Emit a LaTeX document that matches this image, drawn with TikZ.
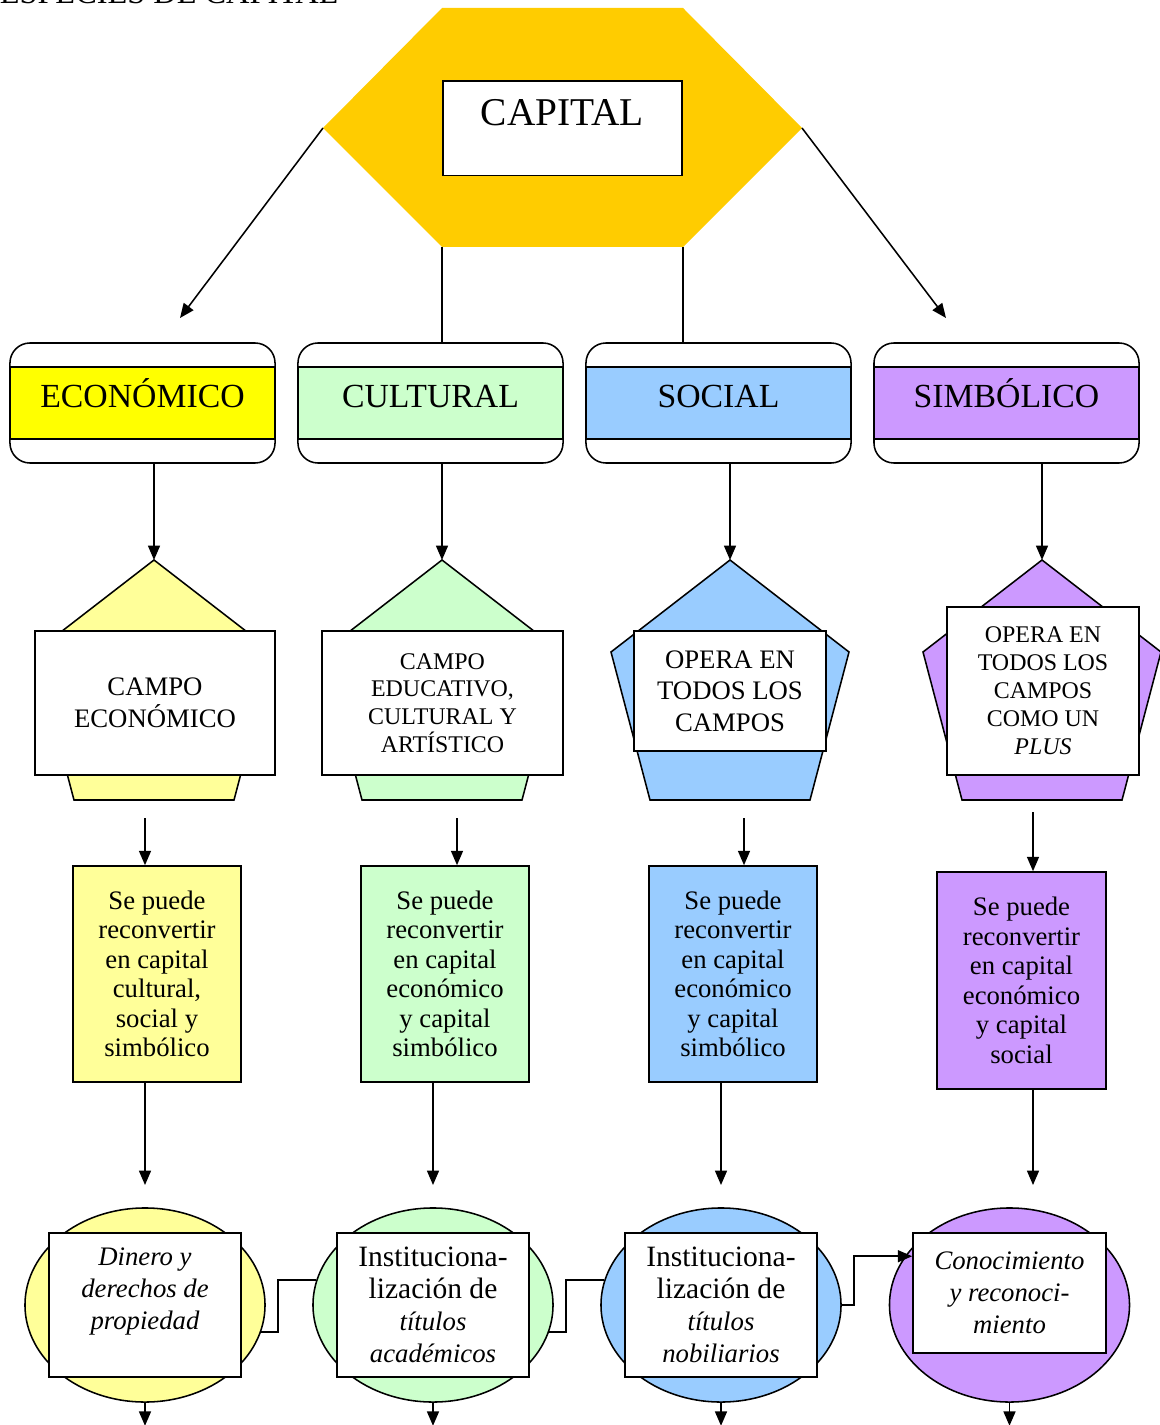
\documentclass[tikz,border=0pt]{standalone}
\usepackage{fontspec}
\setmainfont{Liberation Serif}
\usetikzlibrary{arrows.meta,shapes.geometric}

\definecolor{capcol}{HTML}{FFCC00}
\definecolor{ecoA}{HTML}{FFFF00}
\definecolor{ecoB}{HTML}{FFFF99}
\definecolor{culA}{HTML}{CCFFCC}
\definecolor{socA}{HTML}{99CCFF}
\definecolor{simA}{HTML}{CC99FF}

\newcommand\cursiva[1]{{\itshape\fontsize{19}{22.8}\selectfont #1}}

\begin{document}
\begin{tikzpicture}[x=0.025cm, y=-0.025cm, line width=1.1pt,
    >={Triangle[length=0.36cm,width=0.3cm]},
    hdrbox/.style={draw, fill=white, rounded corners=0.5cm, minimum width=6.625cm, minimum height=3cm},
    band/.style={draw, minimum width=6.625cm, minimum height=1.8cm, text height=16pt, text depth=10.3pt,
        font=\fontsize{24}{28}\selectfont},
    campo/.style={draw, fill=white, align=center, inner sep=0pt},
    reconv/.style={draw, align=center, minimum width=4.2cm, minimum height=5.4cm, inner sep=0pt,
        font=\fontsize{19}{21}\selectfont},
    oval/.style={draw, ellipse, minimum width=6cm, minimum height=4.85cm, inner sep=0pt},
    titulo/.style={draw, fill=white, align=center, minimum width=4.8cm, minimum height=3.6cm, inner sep=0pt,
        font=\fontsize{21}{22.8}\selectfont}]
    \useasboundingbox (0,0) rectangle (1159,1425);

    % title, cut by the top of the page
    \node[anchor=base west, inner sep=0pt, font=\fontsize{23}{27}\selectfont] (title) at (-1,4) {ESPECIES DE CAPITAL};

    % hexagon with CAPITAL
    \coordinate (hexL) at (323,128);
    \coordinate (hexR) at (802,128);
    \coordinate (hexBL) at (442,247);
    \coordinate (hexBR) at (683,247);
    \fill[capcol] (442,8) -- (683,8) -- (hexR) -- (hexBR) -- (hexBL) -- (hexL) -- cycle;
    \node[draw, fill=white, anchor=north, minimum width=5.975cm, text height=18.5pt, text depth=22pt,
        inner ysep=13.5pt, font=\fontsize{28}{32}\selectfont] (capital) at (562.5,80) {CAPITAL};

    % the four kinds
    \foreach[count=\s] \cx/\ax/\hc/\pc/\lbl in {142.5/154/ecoA/ecoB/ECONÓMICO, 430.5/442/culA/culA/CULTURAL,
        718.5/730/socA/socA/SOCIAL, 1006.5/1042/simA/simA/SIMBÓLICO}
    {
    \node[hdrbox] (hdr\s) at (\cx,403) {};
    \node[band, fill=\hc] (band\s) at (\cx,403) {\lbl};
    \coordinate (apex\s) at (\ax,560);
    \fill[\pc, draw=black] (apex\s) -- (\ax+119,652) -- (\ax+80,800) -- (\ax-80,800) -- (\ax-119,652) -- cycle;
    \draw[->] (apex\s |- hdr\s.south) -- (apex\s);
    }

    \coordinate (eTip) at (180,318);
    \coordinate (sTip) at (946,318);
    \draw[->] (hexL) -- (eTip);
    \draw[->] (hexR) -- (sTip);
    \draw (hexBL) -- (hexBL |- hdr2.north);
    \draw (hexBR) -- (hexBR |- hdr3.north);

    % fields
    \node[campo, minimum width=6cm, minimum height=3.6cm, font=\fontsize{19}{22.5}\selectfont] (campo1) at (155,703)
        {CAMPO\\ECONÓMICO};
    \node[campo, minimum width=6.025cm, minimum height=3.6cm, font=\fontsize{17}{19.7}\selectfont] (campo2) at (442.5,703)
        {CAMPO\\EDUCATIVO,\\CULTURAL Y\\ARTÍSTICO};
    \node[campo, minimum width=4.8cm, minimum height=3cm, font=\fontsize{19}{22.4}\selectfont] (campo3) at (730,691)
        {OPERA EN\\TODOS LOS\\CAMPOS};
    \node[campo, minimum width=4.8cm, minimum height=4.2cm, font=\fontsize{17}{19.9}\selectfont] (campo4) at (1043,691)
        {OPERA EN\\TODOS LOS\\CAMPOS\\COMO UN\\\textit{PLUS}};

    % reconversion
    \node[reconv, fill=ecoB] (r1) at (157,974) {Se puede\\reconvertir\\en capital\\cultural,\\social y\\simbólico};
    \node[reconv, fill=culA] (r2) at (445,974) {Se puede\\reconvertir\\en capital\\económico\\y capital\\simbólico};
    \node[reconv, fill=socA] (r3) at (733,974) {Se puede\\reconvertir\\en capital\\económico\\y capital\\simbólico};
    \node[reconv, fill=simA, minimum width=4.225cm, minimum height=5.425cm] (r4) at (1021.5,980.5)
        {Se puede\\reconvertir\\en capital\\económico\\y capital\\social};

    % results
    \node[oval, fill=ecoB] (e1) at (145,1305) {};
    \node[oval, fill=culA] (e2) at (433,1305) {};
    \node[oval, fill=socA] (e3) at (721,1305) {};
    \node[oval, fill=simA] (e4) at (1009.5,1305) {};
    \node[titulo] (b1) at (145,1305) {\cursiva{Dinero y}\\\cursiva{derechos de}\\\cursiva{propiedad}\\~};
    \node[titulo] (b2) at (433,1305) {Instituciona-\\lización de\\\cursiva{títulos}\\\cursiva{académicos}};
    \node[titulo] (b3) at (721,1305) {Instituciona-\\lización de\\\cursiva{títulos}\\\cursiva{nobiliarios}};
    \node[titulo, minimum width=4.825cm, minimum height=3cm] (b4) at (1009.5,1293)
        {\cursiva{Conocimiento}\\\cursiva{y reconoci-}\\\cursiva{miento}};

    \foreach \s/\sx/\sy/\tx in {1/145/818/145, 2/457/818/433, 3/744/818/721, 4/1033/812/1033}
    {
    \coordinate (s\s) at (\sx,\sy);
    \coordinate (t\s) at (\tx,1185);
    \draw[->] (s\s) -- (s\s |- r\s.north);
    \draw[->] (t\s |- r\s.south) -- (t\s);
    \draw[->] (e\s.south) -- ++(0,23);
    }

    \draw (e1.-13) -- ++(17,0) |- (e2.168);
    \draw (e2.-13) -- ++(17,0) |- (e3.168);
    \draw[->] (e3.east) -- ++(12,0) |- ([yshift=-0.6cm]b4.north west);
\end{tikzpicture}
\end{document}
